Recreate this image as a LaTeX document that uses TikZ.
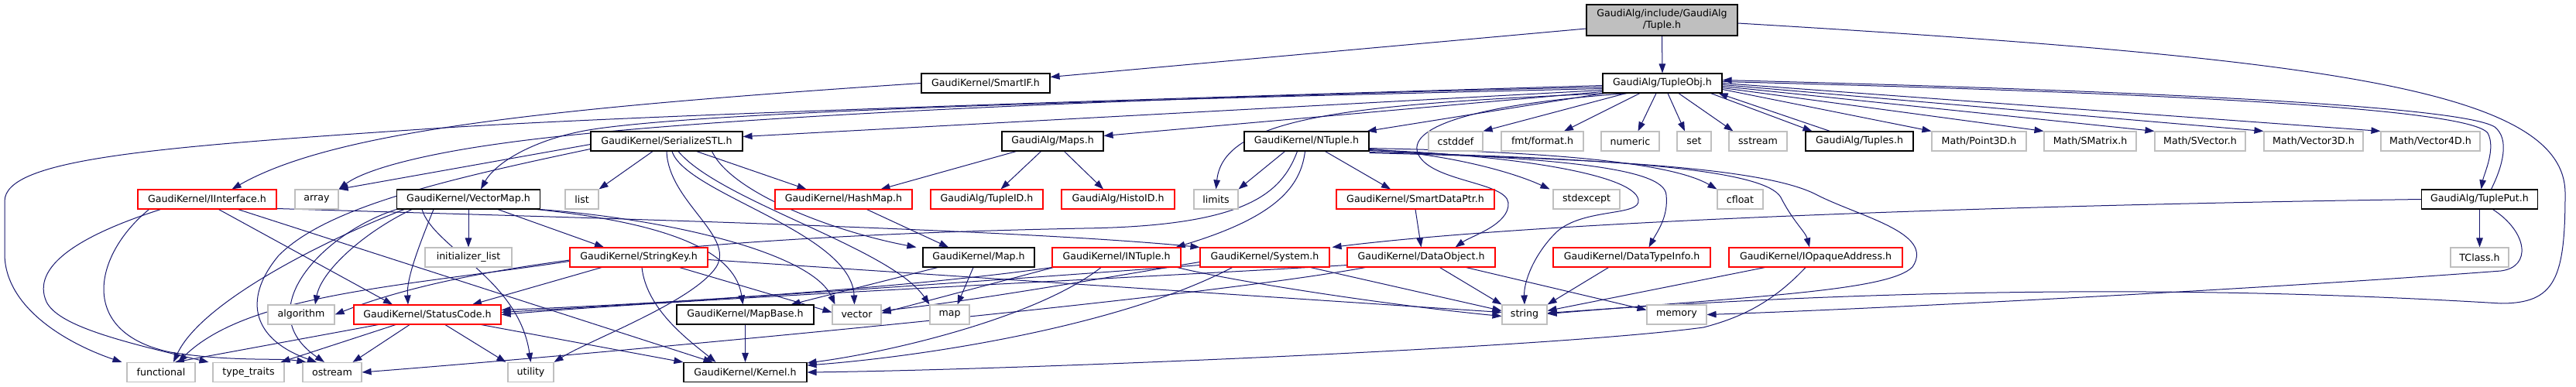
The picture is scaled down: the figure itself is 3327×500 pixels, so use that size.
\documentclass[tikz,border=0pt]{standalone}
\usepackage{fontspec}
\setmainfont{DejaVu Sans}
\usetikzlibrary{arrows.meta,calc}
\definecolor{edgec}{HTML}{191970}
\definecolor{extc}{HTML}{BFBFBF}
\definecolor{truncc}{HTML}{FF0000}
\definecolor{rootc}{HTML}{BFBFBF}
\newcommand{\dxf}{\fontsize{12.6}{15}\selectfont}
\pgfdeclarelayer{bglayer}
\pgfdeclarelayer{edgelayer}
\pgfsetlayers{bglayer,edgelayer,main}
\tikzset{
  box/.style={rectangle, inner sep=0pt, minimum height=25pt, font=\dxf, text=black, line width=1.1pt, fill=white},
  docn/.style={box, draw=black},
  extn/.style={box, draw=extc},
  trn/.style={box, draw=truncc},
  rootn/.style={box, draw=black, fill=rootc, minimum height=40pt, align=center},
  e/.style={draw=edgec, line width=1pt, -{Triangle[length=12pt,width=8.5pt]}}
}
\begin{document}
\begin{tikzpicture}[x=1pt,y=-1pt]
\begin{pgfonlayer}{bglayer}
\fill[white] (0,0) rectangle (3327,500);
\end{pgfonlayer}
\useasboundingbox (0,0) rectangle (3327,500);
% row 1-2
\node[rootn, minimum width=195pt] (root) at (2146.5,26) {GaudiAlg/include/GaudiAlg\\/Tuple.h};
\node[docn, minimum width=166pt] (smartif) at (1273,107.5) {GaudiKernel/SmartIF.h};
\node[docn, minimum width=154pt] (tupleobj) at (2147,107.5) {GaudiAlg/TupleObj.h};
% row 3
\node[docn, minimum width=196pt] (serialize) at (861,182.5) {GaudiKernel/SerializeSTL.h};
\node[docn, minimum width=131pt] (maps) at (1359.5,182.5) {GaudiAlg/Maps.h};
\node[docn, minimum width=161pt] (ntuple) at (1687.5,182.5) {GaudiKernel/NTuple.h};
\node[extn, minimum width=70pt] (cstddef) at (1880,182.5) {cstddef};
\node[extn, minimum width=106pt] (fmt) at (1992,182.5) {fmt/format.h};
\node[extn, minimum width=75pt] (numeric) at (2105.5,182.5) {numeric};
\node[extn, minimum width=44pt] (set) at (2188,182.5) {set};
\node[extn, minimum width=75pt] (sstream) at (2270.5,182.5) {sstream};
\node[docn, minimum width=139pt] (tuples) at (2401.5,182.5) {GaudiAlg/Tuples.h};
\node[extn, minimum width=122pt] (point3d) at (2556,182.5) {Math/Point3D.h};
\node[extn, minimum width=119pt] (smatrix) at (2699.5,182.5) {Math/SMatrix.h};
\node[extn, minimum width=117pt] (svector) at (2841.5,182.5) {Math/SVector.h};
\node[extn, minimum width=128pt] (vector3d) at (2988,182.5) {Math/Vector3D.h};
\node[extn, minimum width=128pt] (vector4d) at (3139,182.5) {Math/Vector4D.h};
% row 4
\node[trn, minimum width=179pt] (iinterface) at (267.5,257.5) {GaudiKernel/IInterface.h};
\node[extn, minimum width=56pt] (array) at (409,257.5) {array};
\node[docn, minimum width=185pt] (vectormap) at (605,257.5) {GaudiKernel/VectorMap.h};
\node[extn, minimum width=43pt] (list) at (751.5,257.5) {list};
\node[trn, minimum width=177pt] (hashmap) at (1089.5,257.5) {GaudiKernel/HashMap.h};
\node[trn, minimum width=145pt] (tupleid) at (1274.5,257.5) {GaudiAlg/TupleID.h};
\node[trn, minimum width=146pt] (histoid) at (1444,257.5) {GaudiAlg/HistoID.h};
\node[extn, minimum width=57pt] (limits) at (1570.5,257.5) {limits};
\node[trn, minimum width=204pt] (smartdataptr) at (1828,257.5) {GaudiKernel/SmartDataPtr.h};
\node[extn, minimum width=86pt] (stdexcept) at (2049,257.5) {stdexcept};
\node[extn, minimum width=59pt] (cfloat) at (2247.5,257.5) {cfloat};
\node[docn, minimum width=150pt] (tupleput) at (3202.5,257.5) {GaudiAlg/TuplePut.h};
% row 5
\node[extn, minimum width=112pt] (initlist) at (605,332.5) {initializer\_list};
\node[trn, minimum width=178pt] (stringkey) at (825,332.5) {GaudiKernel/StringKey.h};
\node[docn, minimum width=144pt] (mapH) at (1264,332.5) {GaudiKernel/Map.h};
\node[trn, minimum width=166pt] (intuple) at (1442,332.5) {GaudiKernel/INTuple.h};
\node[trn, minimum width=167pt] (system) at (1633.5,332.5) {GaudiKernel/System.h};
\node[trn, minimum width=191pt] (dataobject) at (1835.5,332.5) {GaudiKernel/DataObject.h};
\node[trn, minimum width=203pt] (datatypeinfo) at (2107.5,332.5) {GaudiKernel/DataTypeInfo.h};
\node[trn, minimum width=224pt] (iopaque) at (2345,332.5) {GaudiKernel/IOpaqueAddress.h};
\node[extn, minimum width=75pt] (tclass) at (3202.5,332.5) {TClass.h};
% row 6
\node[extn, minimum width=86pt] (algorithm) at (389,406.5) {algorithm};
\node[trn, minimum width=190pt] (statuscode) at (552,406.5) {GaudiKernel/StatusCode.h};
\node[docn, minimum width=177pt] (mapbase) at (962.5,406.5) {GaudiKernel/MapBase.h};
\node[extn, minimum width=63pt] (vector) at (1106.5,406.5) {vector};
\node[extn, minimum width=51pt] (map) at (1226.5,406.5) {map};
\node[extn, minimum width=58pt] (string) at (1969,406.5) {string};
\node[extn, minimum width=77pt] (memory) at (2165.5,406.5) {memory};
% row 7
\node[extn, minimum width=88pt] (functional) at (208,481) {functional};
\node[extn, minimum width=92pt] (typetraits) at (321,481) {type\_traits};
\node[extn, minimum width=76pt] (ostream) at (429,481) {ostream};
\node[extn, minimum width=59pt] (utility) at (685.5,481) {utility};
\node[docn, minimum width=159pt] (kernel) at (962.5,481) {GaudiKernel/Kernel.h};

\begin{pgfonlayer}{edgelayer}
% ---- Tuple.h
\draw[e] (root.south) -- (tupleobj.north);
\draw[e] ($(root.west)+(0,11)$) -- ($(smartif.east)+(0,-8)$);
\draw[e] ($(root.east)+(0,4)$) .. controls (3000,75) and (3313,115) .. (3313,250) .. controls (3313,360) and (3300,392) .. (3230,392) .. controls (2900,372) and (2500,368) .. ($(string.east)+(0,-2)$);
% ---- SmartIF
\draw[e] (smartif.west) .. controls (700,140) and (430,170) .. ($(iinterface.north)+(32,0)$);
% ---- TupleObj
\draw[e] ($(tupleobj.west)+(0,3)$) .. controls (1400,130) and (800,150) .. (560,166) .. controls (200,190) and (6,205) .. (6,260) -- (6,330) .. controls (8,400) and (90,445) .. ($(functional.north west)+(-6,0)$);
\draw[e] ($(tupleobj.west)+(0,5)$) .. controls (1500,125) and (900,150) .. (650,185) .. controls (540,200) and (470,220) .. (array.north east);
\draw[e] ($(tupleobj.west)+(0,7)$) .. controls (1400,130) and (900,145) .. (760,168) .. controls (690,180) and (640,210) .. ($(vectormap.north)+(16,0)$);
\draw[e] ($(tupleobj.west)+(0,9)$) -- ($(serialize.east)+(0,-6)$);
\draw[e] ($(tupleobj.west)+(0,11)$) -- ($(maps.east)+(0,-7)$);
\draw[e] ($(tupleobj.south west)+(6,0)$) .. controls (1750,135) and (1580,150) .. (limits.north);
\draw[e] ($(tupleobj.south west)+(2,0)$) -- ($(ntuple.north east)+(-3,0)$);
\draw[e] ($(tupleobj.south)+(-44,0)$) .. controls (1900,135) and (1815,165) .. (1832,200) .. controls (1850,235) and (1945,235) .. (1948,262) .. controls (1950,290) and (1900,305) .. ($(dataobject.north east)+(-52,0)$);
\draw[e] ($(tupleobj.south)+(-47,0)$) -- (cstddef.north east);
\draw[e] ($(tupleobj.south)+(-29,0)$) -- ($(fmt.north)+(28,0)$);
\draw[e] ($(tupleobj.south)+(-8,0)$) -- ($(numeric.north)+(10,0)$);
\draw[e] ($(tupleobj.south)+(7,0)$) -- ($(set.north)+(-12,0)$);
\draw[e] ($(tupleobj.south)+(21,0)$) -- ($(sstream.north west)+(6,0)$);
\draw[e] ($(tupleobj.south east)+(-15,0)$) -- ($(tuples.north west)+(9,0)$);
\draw[e] ($(tuples.north west)+(32,0)$) -- ($(tupleobj.south east)+(-5,0)$);
\draw[e] ($(tupleobj.east)+(0,8)$) -- (point3d.north west);
\draw[e] ($(tupleobj.east)+(0,6)$) -- (smatrix.north west);
\draw[e] ($(tupleobj.east)+(0,4)$) -- (svector.north west);
\draw[e] ($(tupleobj.east)+(0,2)$) -- (vector3d.north west);
\draw[e] ($(tupleobj.east)+(0,0)$) -- (vector4d.north west);
\draw[e] ($(tupleobj.east)+(0,-2)$) .. controls (2800,120) and (3190,140) .. (3213,172) .. controls (3224,192) and (3208,225) .. ($(tupleput.north)+(2,0)$);
\draw[e] ($(tupleput.north)+(15,0)$) .. controls (3232,215) and (3242,180) .. (3222,164) .. controls (3180,138) and (2800,118) .. ($(tupleobj.east)+(0,-4)$);
% ---- SerializeSTL
\draw[e] ($(serialize.west)+(0,4)$) -- (array.north east);
\draw[e] ($(serialize.west)+(0,10)$) .. controls (560,235) and (420,270) .. (360,330) .. controls (310,390) and (330,440) .. ($(ostream.north)+(-20,0)$);
\draw[e] ($(serialize.south)+(-18,0)$) -- (list.north east);
\draw[e] ($(serialize.south east)+(-60,0)$) -- ($(hashmap.north)+(-48,0)$);
\draw[e] (serialize.south) .. controls (863,260) and (950,305) .. (925,345) .. controls (895,390) and (760,440) .. (utility.north east);
\draw[e] ($(serialize.south)+(7,0)$) .. controls (885,250) and (1100,300) .. ($(vector.north)+(-3,0)$);
\draw[e] ($(serialize.south)+(15,0)$) .. controls (930,260) and (1150,320) .. (map.north west);
\draw[e] ($(serialize.south east)+(-40,0)$) .. controls (945,250) and (1080,300) .. ($(mapH.north west)+(-8,0)$);
% ---- VectorMap
\draw[e] ($(vectormap.south west)+(20,0)$) .. controls (470,300) and (415,350) .. ($(algorithm.north)+(18,0)$);
\draw[e] ($(vectormap.south west)+(10,0)$) .. controls (420,310) and (260,390) .. ($(functional.north)+(16,0)$);
\draw[e] (vectormap.south west) .. controls (420,300) and (320,400) .. ($(ostream.north)+(-10,0)$);
\draw[e] ($(vectormap.south)+(-45,0)$) .. controls (540,320) and (525,360) .. ($(statuscode.north)+(-25,0)$);
\draw[e] (vectormap.south) -- (initlist.north);
\draw[e] ($(vectormap.south)+(38,0)$) -- ($(stringkey.north)+(-45,0)$);
\draw[e] ($(vectormap.south)+(-60,0)$) .. controls (560,320) and (670,360) .. (utility.north);
\draw[e] ($(vectormap.south east)+(-5,0)$) .. controls (880,290) and (950,330) .. ($(mapbase.north)+(-3,0)$);
\draw[e] (vectormap.south east) .. controls (880,285) and (1050,330) .. ($(vector.north west)+(4,0)$);
% ---- IInterface
\draw[e] ($(iinterface.east)+(0,12)$) .. controls (700,280) and (1300,295) .. (system.north west);
\draw[e] ($(iinterface.south)+(40,0)$) -- ($(kernel.north)+(-42,0)$);
\draw[e] ($(iinterface.south)+(15,0)$) -- ($(statuscode.north)+(-45,0)$);
\draw[e] ($(iinterface.south)+(-60,0)$) .. controls (100,305) and (40,345) .. (60,390) .. controls (75,420) and (150,440) .. ($(typetraits.north west)+(-5,0)$);
\draw[e] ($(iinterface.south)+(-75,0)$) .. controls (120,330) and (100,430) .. (220,455) .. controls (300,468) and (360,462) .. ($(ostream.north west)+(5,0)$);
% ---- Maps / HashMap / Map
\draw[e] ($(maps.south)+(-47,0)$) -- ($(hashmap.north)+(48,0)$);
\draw[e] ($(maps.south)+(-15,0)$) -- ($(tupleid.north)+(18,0)$);
\draw[e] ($(maps.south)+(15,0)$) -- ($(histoid.north)+(-19,0)$);
\draw[e] ($(hashmap.south)+(30,0)$) -- ($(mapH.north)+(-39,0)$);
\draw[e] ($(mapH.south)+(-7,0)$) -- ($(map.north)+(10,0)$);
\draw[e] ($(mapH.south)+(-53,0)$) -- ($(mapbase.north east)+(-30,0)$);
% ---- NTuple
\draw[e] ($(ntuple.south)+(-12,0)$) .. controls (1655,250) and (1610,292) .. (1400,295) .. controls (900,305) and (600,340) .. (algorithm.east);
\draw[e] ($(ntuple.south)+(-28,0)$) -- (limits.north east);
\draw[e] ($(ntuple.south)+(-2,0)$) .. controls (1680,240) and (1650,280) .. ($(intuple.north east)+(-7,0)$);
\draw[e] ($(ntuple.south)+(24,0)$) -- ($(smartdataptr.north)+(-32,0)$);
\draw[e] ($(ntuple.south east)+(0,-3)$) .. controls (1880,200) and (1960,225) .. ($(stdexcept.north west)+(-4,0)$);
\draw[e] ($(ntuple.south east)+(0,-2)$) .. controls (1950,200) and (2110,225) .. (2116,258) .. controls (2120,280) and (2045,268) .. (2010,300) .. controls (1980,330) and (1968,365) .. (string.north);
\draw[e] ($(ntuple.south east)+(0,-4)$) .. controls (1950,195) and (2150,205) .. (cfloat.north west);
\draw[e] ($(ntuple.south east)+(0,-1)$) .. controls (2000,205) and (2150,215) .. (2152,252) .. controls (2155,280) and (2140,300) .. ($(datatypeinfo.north)+(22,0)$);
\draw[e] ($(ntuple.south east)+(0,1)$) .. controls (2100,205) and (2280,220) .. (2300,255) .. controls (2315,285) and (2332,300) .. ($(iopaque.north)+(-8,0)$);
\draw[e] ($(ntuple.south east)+(0,2)$) .. controls (2050,205) and (2270,215) .. (2343,250) .. controls (2400,280) and (2500,300) .. (2470,345) .. controls (2440,375) and (2280,382) .. ($(string.east)+(0,-1)$);
% ---- StringKey
\draw[e] ($(stringkey.south)+(-48,0)$) -- ($(statuscode.north)+(58,0)$);
\draw[e] ($(stringkey.south)+(4,0)$) .. controls (835,400) and (890,440) .. ($(kernel.north)+(-38,0)$);
\draw[e] ($(stringkey.south east)+(-37,0)$) -- ($(vector.west)+(0,-3)$);
\draw[e] ($(stringkey.east)+(0,3)$) -- ($(string.west)+(0,-3)$);
\draw[e] ($(stringkey.west)+(0,5)$) .. controls (520,370) and (320,380) .. ($(functional.north)+(22,0)$);
% ---- INTuple
\draw[e] ($(intuple.south west)+(2,0)$) -- ($(vector.east)+(0,-2)$);
\draw[e] ($(intuple.south)+(-20,0)$) .. controls (1340,410) and (1150,455) .. ($(kernel.east)+(0,-12)$);
\draw[e] ($(intuple.south east)+(-5,0)$) .. controls (1600,365) and (1800,395) .. ($(string.west)+(0,2)$);
\draw[e] (intuple.south west) .. controls (1150,375) and (800,395) .. ($(statuscode.east)+(0,-6)$);
% ---- System
\draw[e] ($(system.south west)+(0,-3)$) .. controls (1250,365) and (850,392) .. ($(statuscode.east)+(0,-3)$);
\draw[e] ($(system.south)+(-42,0)$) .. controls (1450,420) and (1200,460) .. ($(kernel.east)+(0,-9)$);
\draw[e] ($(system.south east)+(-25,0)$) -- ($(string.west)+(0,-5)$);
\draw[e] ($(system.west)+(0,6)$) .. controls (1450,355) and (1250,390) .. ($(vector.east)+(0,-5)$);
% ---- SmartDataPtr / DataObject / DataTypeInfo / IOpaqueAddress
\draw[e] (smartdataptr.south) -- (dataobject.north);
\draw[e] ($(dataobject.south)+(24,0)$) -- (string.north west);
\draw[e] ($(dataobject.south east)+(-38,0)$) -- ($(memory.west)+(0,-6)$);
\draw[e] ($(dataobject.south west)+(24,0)$) .. controls (1550,385) and (800,455) .. (ostream.east);
\draw[e] ($(dataobject.south west)+(0,-3)$) .. controls (1450,360) and (900,385) .. (statuscode.east);
\draw[e] ($(datatypeinfo.south)+(-30,0)$) -- (string.north east);
\draw[e] ($(iopaque.south west)+(47,0)$) -- ($(string.east)+(0,-5)$);
\draw[e] ($(iopaque.south)+(-13,0)$) .. controls (2290,390) and (2250,410) .. (2200,423) .. controls (2000,450) and (1300,478) .. (kernel.east);
% ---- StatusCode / MapBase
\draw[e] ($(statuscode.south west)+(32,0)$) -- ($(functional.north)+(18,0)$);
\draw[e] ($(statuscode.south)+(-41,0)$) -- ($(typetraits.north east)+(-5,0)$);
\draw[e] ($(statuscode.south)+(-23,0)$) -- ($(ostream.north east)+(-12,0)$);
\draw[e] ($(statuscode.south)+(23,0)$) -- ($(utility.north west)+(-2,0)$);
\draw[e] ($(statuscode.south east)+(-26,0)$) -- (kernel.north west);
\draw[e] (mapbase.south) -- (kernel.north);
% ---- TuplePut
\draw[e] (tupleput.south) -- (tclass.north);
\draw[e] (tupleput.west) .. controls (2600,265) and (2000,285) .. ($(system.north east)+(3,0)$);
\draw[e] ($(tupleput.south)+(17,0)$) .. controls (3265,300) and (3270,345) .. (3230,350) .. controls (2900,375) and (2400,400) .. (memory.east);
\end{pgfonlayer}
\end{tikzpicture}
\end{document}
